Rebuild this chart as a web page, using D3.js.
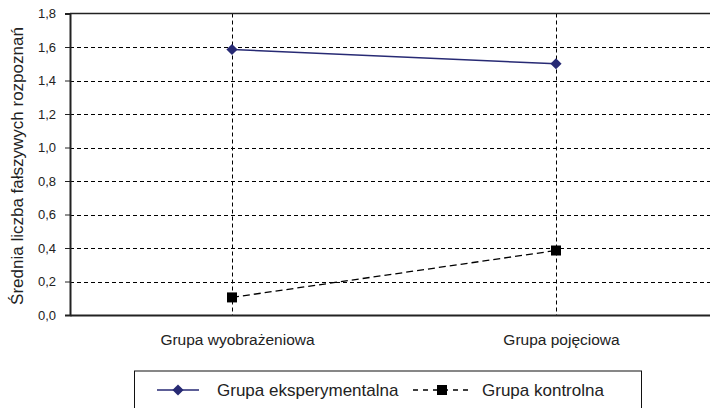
<!DOCTYPE html>
<html>
<head>
<meta charset="utf-8">
<script src="https://d3js.org/d3.v7.min.js"></script>
<style>
  body { margin: 0; background: #fff; }
  text { font-family: "Liberation Sans", Arial, sans-serif; fill: #222; }
</style>
</head>
<body>
<svg width="710" height="408"></svg>
<script>
var categories = ["Grupa wyobrażeniowa", "Grupa pojęciowa"];
var seriesNames = ["Grupa eksperymentalna", "Grupa kontrolna"];
var experimental = [1.585, 1.50];
var control = [0.105, 0.385];
var yTicks = [0, 0.2, 0.4, 0.6, 0.8, 1.0, 1.2, 1.4, 1.6, 1.8];

var svg = d3.select("svg");
var plotLeft = 70, plotRight = 718, plotTop = 13.5, plotBottom = 315;

var x = d3.scalePoint().domain(categories).range([plotLeft, plotRight]).padding(0.5);
var y = d3.scaleLinear().domain([0, 1.8]).range([plotBottom, plotTop]);
var fmt = function(d) { return d3.format(".1f")(d).replace(".", ","); };

// horizontal grid
svg.append("g").selectAll("line")
  .data(yTicks.filter(function(d) { return d > 0 && d < 1.8; }))
  .enter().append("line")
  .attr("x1", plotLeft).attr("x2", plotRight)
  .attr("y1", function(d) { return Math.round(y(d)) + 0.5; })
  .attr("y2", function(d) { return Math.round(y(d)) + 0.5; })
  .attr("stroke", "#000").attr("stroke-width", 1).attr("stroke-dasharray", "4,3");

// vertical grid at categories
svg.append("g").selectAll("line")
  .data(categories).enter().append("line")
  .attr("x1", function(d) { return Math.round(x(d)) + 0.5; })
  .attr("x2", function(d) { return Math.round(x(d)) + 0.5; })
  .attr("y1", plotTop).attr("y2", plotBottom)
  .attr("stroke", "#000").attr("stroke-width", 1).attr("stroke-dasharray", "4,3");

// top border
svg.append("line").attr("x1", plotLeft).attr("x2", plotRight).attr("y1", plotTop).attr("y2", plotTop)
  .attr("stroke", "#222").attr("stroke-width", 1.5);

// y axis
var yAxis = svg.append("g").attr("transform", "translate(" + plotLeft + ",0)")
  .call(d3.axisLeft(y).tickValues(yTicks).tickFormat(fmt).tickSize(5).tickPadding(9));
yAxis.select(".domain").attr("stroke", "#222").attr("stroke-width", 2);
yAxis.selectAll(".tick line").attr("stroke", "#222");
yAxis.selectAll("text").style("font-size", "13px").attr("fill", "#333");

// x axis
var xAxis = svg.append("g").attr("transform", "translate(0," + plotBottom + ")")
  .call(d3.axisBottom(x).tickSize(0).tickPadding(19));
xAxis.select(".domain").attr("stroke", "#222").attr("stroke-width", 2.2);
xAxis.selectAll("text").style("font-size", "15.5px").attr("fill", "#222")
  .attr("dx", 5);

// y title
svg.append("text")
  .attr("transform", "translate(23,166) rotate(-90)")
  .attr("text-anchor", "middle").style("font-size", "17px")
  .text("Średnia liczba fałszywych rozpoznań");

var line = d3.line().x(function(d, i) { return x(categories[i]); }).y(function(d) { return y(d); });
var navy = "#272a74";

// control series
svg.append("path").datum(control).attr("d", line)
  .attr("fill", "none").attr("stroke", "#000").attr("stroke-width", 1.3).attr("stroke-dasharray", "7,4");
svg.append("g").selectAll("rect").data(control).enter().append("rect")
  .attr("x", function(d, i) { return x(categories[i]) - 5; })
  .attr("y", function(d) { return y(d) - 5; })
  .attr("width", 10).attr("height", 10).attr("fill", "#000");

// experimental series
svg.append("path").datum(experimental).attr("d", line)
  .attr("fill", "none").attr("stroke", navy).attr("stroke-width", 1.5);
var diamond = d3.symbol().type(d3.symbolDiamond2).size(80);
svg.append("g").selectAll("path").data(experimental).enter().append("path")
  .attr("d", diamond)
  .attr("transform", function(d, i) { return "translate(" + x(categories[i]) + "," + y(d) + ")"; })
  .attr("fill", navy);

// legend
var lg = svg.append("g");
lg.append("rect").attr("x", 134.5).attr("y", 371).attr("width", 507).attr("height", 45)
  .attr("fill", "#fff").attr("stroke", "#111").attr("stroke-width", 1);
var ly = 390;
lg.append("line").attr("x1", 157).attr("x2", 199).attr("y1", ly).attr("y2", ly)
  .attr("stroke", navy).attr("stroke-width", 1.5);
lg.append("path").attr("d", diamond).attr("transform", "translate(178," + ly + ")").attr("fill", navy);
lg.append("text").attr("x", 217).attr("y", ly + 6).style("font-size", "17px").text(seriesNames[0]);
lg.append("line").attr("x1", 413).attr("x2", 468).attr("y1", ly).attr("y2", ly)
  .attr("stroke", "#000").attr("stroke-width", 1.5).attr("stroke-dasharray", "5,5");
lg.append("rect").attr("x", 442 - 5).attr("y", ly - 5).attr("width", 10).attr("height", 10).attr("fill", "#000");
lg.append("text").attr("x", 482).attr("y", ly + 6).style("font-size", "17px").text(seriesNames[1]);
</script>
</body>
</html>
